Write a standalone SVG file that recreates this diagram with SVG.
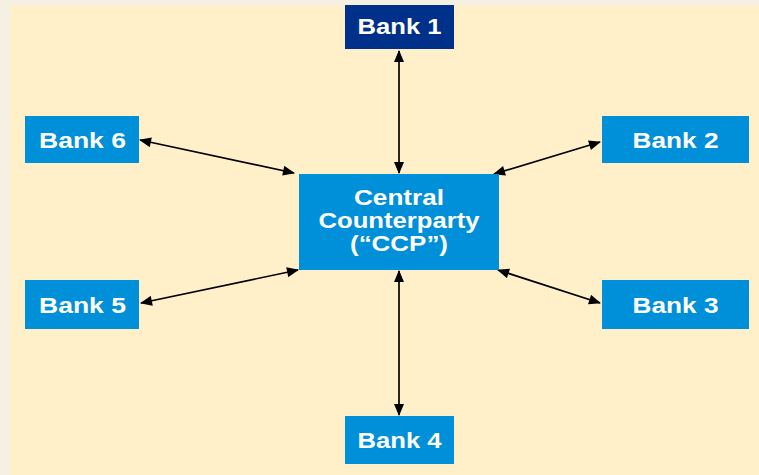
<svg xmlns="http://www.w3.org/2000/svg" width="759" height="475" viewBox="0 0 759 475">
<defs>
<style>
.bank{fill:#0090da;}
.navy{fill:#00318a;}
.lbl{font-family:"Liberation Sans",Arial,sans-serif;font-weight:bold;font-size:22px;fill:#ffffff;text-anchor:middle;}
.conn{stroke:#000000;stroke-width:1.7;fill:none;marker-start:url(#ah);marker-end:url(#ah);}
</style>
<marker id="ah" viewBox="0 0 12 10" refX="11" refY="5" markerWidth="13" markerHeight="10" markerUnits="userSpaceOnUse" orient="auto-start-reverse">
<path d="M0,0 L12,5 L0,10 z" fill="#000000"/>
</marker>
</defs>
<rect x="0" y="0" width="759" height="475" fill="#f4f1e4"/>
<rect x="10" y="5" width="749" height="470" fill="#fff0c9"/>
<g id="connectors">
<line class="conn" x1="399" y1="51" x2="399" y2="173"/>
<line class="conn" x1="399" y1="271" x2="399" y2="415"/>
<line class="conn" x1="140" y1="140" x2="294" y2="173"/>
<line class="conn" x1="141" y1="303" x2="298" y2="270"/>
<line class="conn" x1="600" y1="142" x2="494" y2="174"/>
<line class="conn" x1="600" y1="303" x2="498" y2="270"/>
</g>
<g id="bank1"><rect class="navy" x="345" y="5" width="109" height="44"/><text class="lbl" x="399.5" y="34" textLength="84" lengthAdjust="spacingAndGlyphs">Bank 1</text></g>
<g id="bank2"><rect class="bank" x="602" y="116" width="147" height="47"/><text class="lbl" x="675.5" y="148" textLength="86" lengthAdjust="spacingAndGlyphs">Bank 2</text></g>
<g id="bank3"><rect class="bank" x="602" y="280" width="147" height="49"/><text class="lbl" x="675.5" y="313" textLength="86" lengthAdjust="spacingAndGlyphs">Bank 3</text></g>
<g id="bank4"><rect class="bank" x="345" y="416" width="109" height="48"/><text class="lbl" x="399.5" y="448" textLength="84" lengthAdjust="spacingAndGlyphs">Bank 4</text></g>
<g id="bank5"><rect class="bank" x="25" y="280" width="114" height="49"/><text class="lbl" x="82.5" y="313" textLength="87" lengthAdjust="spacingAndGlyphs">Bank 5</text></g>
<g id="bank6"><rect class="bank" x="25" y="116" width="114" height="47"/><text class="lbl" x="82.5" y="148" textLength="87" lengthAdjust="spacingAndGlyphs">Bank 6</text></g>
<g id="ccp"><rect class="bank" x="299" y="174" width="200" height="96"/>
<text class="lbl" x="399" y="205" textLength="90" lengthAdjust="spacingAndGlyphs">Central</text>
<text class="lbl" x="399" y="228" textLength="161" lengthAdjust="spacingAndGlyphs">Counterparty</text>
<text class="lbl" x="399" y="251" textLength="98" lengthAdjust="spacingAndGlyphs">(“CCP”)</text>
</g>
</svg>
